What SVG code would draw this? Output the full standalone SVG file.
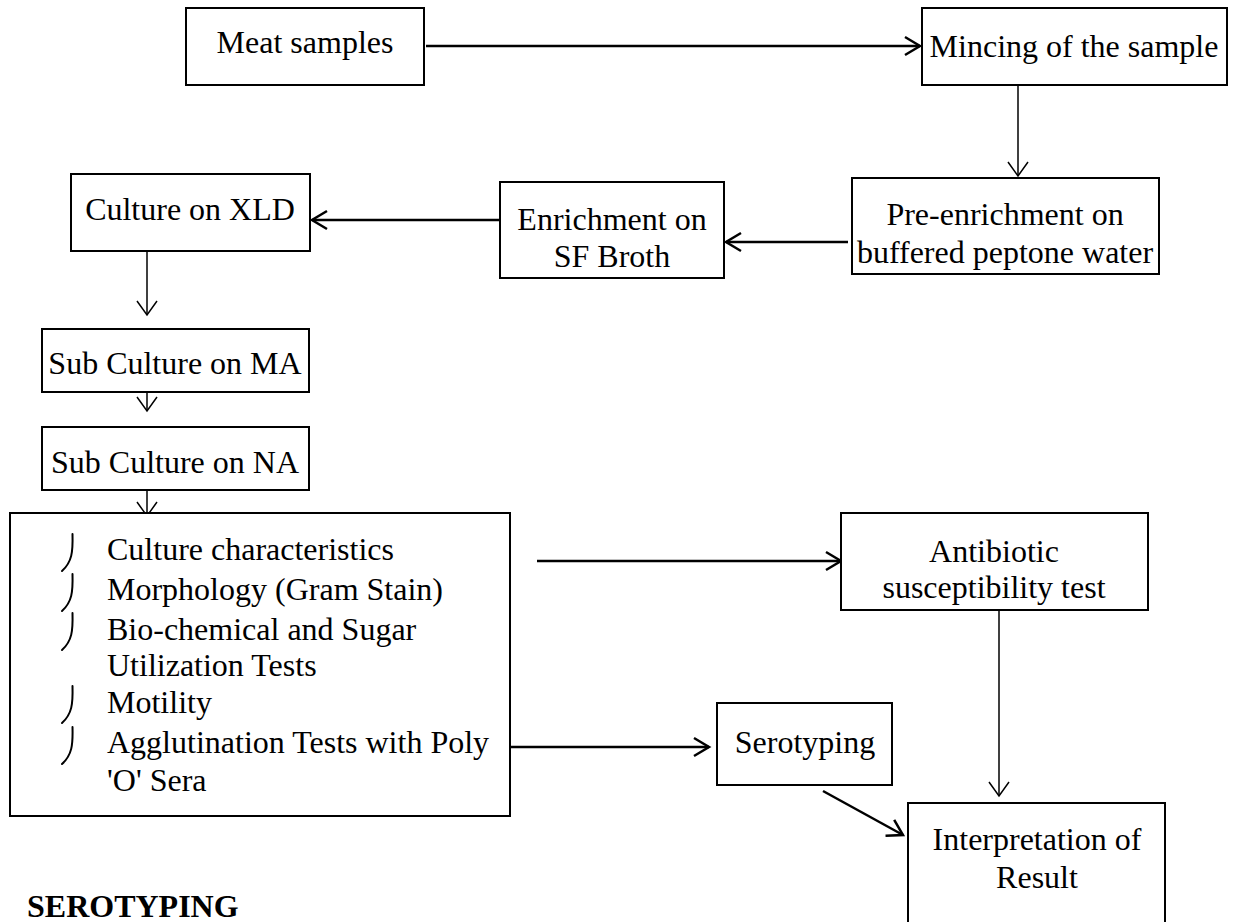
<svg xmlns="http://www.w3.org/2000/svg" width="1236" height="922" viewBox="0 0 1236 922">
  <style>
    .box { fill: #ffffff; stroke: #000000; stroke-width: 2; }
    .t { font-family: "Liberation Serif", "Times New Roman", serif; font-size: 32px; fill: #000000; }
    .c { text-anchor: middle; }
    .thick { fill: none; stroke: #000000; stroke-width: 2.5; }
    .thin { fill: none; stroke: #000000; stroke-width: 1.5; }
    .bullet { fill: none; stroke: #000000; stroke-width: 2; stroke-linecap: round; }
    .title { font-family: "Liberation Serif", "Times New Roman", serif; font-size: 32px; font-weight: bold; fill: #000000; }
  </style>
  <defs>
    <marker id="headThick" markerUnits="userSpaceOnUse" viewBox="-20 -12 24 24" markerWidth="24" markerHeight="24" refX="0" refY="0" orient="auto" overflow="visible">
      <path d="M -15 -9 L 0 0 L -15 9" fill="none" stroke="#000000" stroke-width="2.5"/>
    </marker>
    <marker id="headThin" markerUnits="userSpaceOnUse" viewBox="-20 -12 24 24" markerWidth="24" markerHeight="24" refX="0" refY="0" orient="auto" overflow="visible">
      <path d="M -14 -10 L 0 0 L -14 10" fill="none" stroke="#000000" stroke-width="1.5"/>
    </marker>
  </defs>

  <rect width="1236" height="922" fill="#ffffff"/>

  <g id="connectors">
    <path class="thick" d="M 426 46 H 920" marker-end="url(#headThick)"/>
    <path class="thin" d="M 1018 85 V 176" marker-end="url(#headThin)"/>
    <path class="thick" d="M 848 242 H 726" marker-end="url(#headThick)"/>
    <path class="thick" d="M 505 220 H 312" marker-end="url(#headThick)"/>
    <path class="thin" d="M 147 251 V 315" marker-end="url(#headThin)"/>
    <path class="thin" d="M 147 392 V 411" marker-end="url(#headThin)"/>
    <path class="thin" d="M 147 490 V 516" marker-end="url(#headThin)"/>
    <path class="thick" d="M 537 561 H 841" marker-end="url(#headThick)"/>
    <path class="thick" d="M 510 747 H 709" marker-end="url(#headThick)"/>
    <path class="thin" d="M 999 610 V 796" marker-end="url(#headThin)"/>
    <path class="thick" d="M 823 791 L 903 835" marker-end="url(#headThick)"/>
  </g>

  <g id="meat-samples">
    <rect class="box" x="186" y="8" width="238" height="77"/>
    <text class="t c" x="305" y="53">Meat samples</text>
  </g>

  <g id="mincing">
    <rect class="box" x="922" y="8" width="305" height="77"/>
    <text class="t c" x="1074" y="57">Mincing of the sample</text>
  </g>

  <g id="pre-enrichment">
    <rect class="box" x="852" y="178" width="307" height="96"/>
    <text class="t c" x="1005" y="225">Pre-enrichment on</text>
    <text class="t c" x="1005" y="263">buffered peptone water</text>
  </g>

  <g id="enrichment">
    <rect class="box" x="500" y="182" width="224" height="96"/>
    <text class="t c" x="612" y="230">Enrichment on</text>
    <text class="t c" x="612" y="267">SF Broth</text>
  </g>

  <g id="culture-xld">
    <rect class="box" x="71" y="174" width="239" height="77"/>
    <text class="t c" x="190" y="220">Culture on XLD</text>
  </g>

  <g id="subculture-ma">
    <rect class="box" x="42" y="329" width="267" height="63"/>
    <text class="t c" x="175" y="374">Sub Culture on MA</text>
  </g>

  <g id="subculture-na">
    <rect class="box" x="42" y="427" width="267" height="63"/>
    <text class="t c" x="175" y="473">Sub Culture on NA</text>
  </g>

  <g id="tests">
    <rect class="box" x="10" y="513" width="500" height="303"/>
    <path class="bullet" d="M 72.5 534 C 73 552, 72 562, 62 571"/>
    <path class="bullet" d="M 72.5 574 C 73 592, 72 602, 62 611"/>
    <path class="bullet" d="M 72.5 613 C 73 631, 72 641, 62 650"/>
    <path class="bullet" d="M 72.5 686 C 73 704, 72 714, 62 723"/>
    <path class="bullet" d="M 72.5 727 C 73 745, 72 755, 62 764"/>
    <text class="t" x="107" y="560">Culture characteristics</text>
    <text class="t" x="107" y="600">Morphology (Gram Stain)</text>
    <text class="t" x="107" y="640">Bio-chemical and Sugar</text>
    <text class="t" x="107" y="676">Utilization Tests</text>
    <text class="t" x="107" y="713">Motility</text>
    <text class="t" x="107" y="753">Agglutination Tests with Poly</text>
    <text class="t" x="107" y="791">'O' Sera</text>
  </g>

  <g id="antibiotic">
    <rect class="box" x="841" y="513" width="307" height="97"/>
    <text class="t c" x="994" y="562">Antibiotic</text>
    <text class="t c" x="994" y="598">susceptibility test</text>
  </g>

  <g id="serotyping">
    <rect class="box" x="717" y="703" width="175" height="82"/>
    <text class="t c" x="805" y="753">Serotyping</text>
  </g>

  <g id="interpretation">
    <rect class="box" x="908" y="803" width="257" height="130"/>
    <text class="t c" x="1037" y="850">Interpretation of</text>
    <text class="t c" x="1037" y="888">Result</text>
  </g>

  <g id="heading">
    <text class="title" x="27" y="917">SEROTYPING</text>
  </g>
</svg>
